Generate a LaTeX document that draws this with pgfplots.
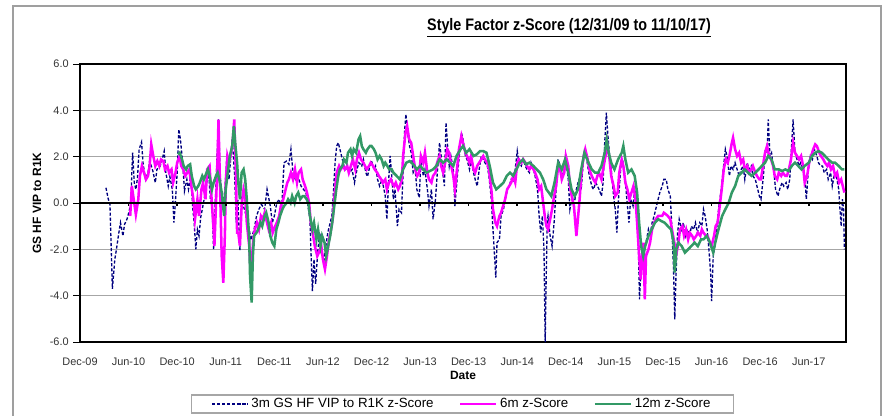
\documentclass[border=0pt]{standalone}
\usepackage{pgfplots}
\pgfplotsset{compat=1.18}
\usepackage{fontspec}
\setmainfont{Liberation Sans}
\definecolor{navyc}{HTML}{000080}
\definecolor{magc}{HTML}{FF00FF}
\definecolor{grnc}{HTML}{339966}
\begin{document}
\begin{tikzpicture}
\useasboundingbox (0,0) rectangle (666pt,-311.25pt);
\draw[gray!75, line width=0.8pt] (9.75pt,-312pt) -- (9.75pt,-4.5pt) -- (660.75pt,-4.5pt) -- (660.75pt,-312pt);
\node[anchor=center, font=\bfseries\fontsize{12.5}{14}\selectfont] at (426.75pt,-21pt) {\scalebox{0.86}[1]{\underline{Style Factor z-Score (12/31/09 to 11/10/17)}}};
\begin{axis}[
  at={(60pt,-256.5pt)}, anchor=south west,
  scale only axis, width=574.5pt, height=208.5pt,
  xmin=0, xmax=94.6, ymin=-6, ymax=6,
  ytick={-6,-4,...,6},
  xtick={0,6,...,90},
  xticklabels={Dec-09,Jun-10,Dec-10,Jun-11,Dec-11,Jun-12,Dec-12,Jun-13,Dec-13,Jun-14,Dec-14,Jun-15,Dec-15,Jun-16,Dec-16,Jun-17},
  tick pos=left, tick align=outside, major tick length=5pt,
  xtick style={draw=none},
  ytick style={black, line width=0.6pt},
  yticklabel style={/pgf/number format/.cd, fixed, fixed zerofill, precision=1, /tikz/.cd},
  /pgf/number format/assume math mode=true,
  ticklabel style={font=\fontsize{8.2}{9.5}\selectfont, text=black!80},
  xticklabel style={yshift=-3.5pt},
  ymajorgrids, grid style={gray!70, line width=0.75pt},
  axis line style={black, line width=1pt},
  xlabel={Date}, ylabel={GS HF VIP to R1K},
  label style={font=\bfseries\fontsize{9}{10.5}\selectfont},
  xlabel style={at={(axis description cs:0.5,-0.119)}, anchor=center},
  ylabel style={at={(axis description cs:-0.056,0.5)}, anchor=center},
  legend columns=3,
  legend style={at={(axis description cs:0.499,-0.223)}, anchor=center, draw=gray!70, line width=0.8pt,
    font=\fontsize{10}{11}\selectfont, inner xsep=15pt, inner ysep=0.5pt,
    /tikz/every even column/.append style={column sep=17pt}},
  legend cell align=left,
  legend image code/.code={\draw[#1] (0pt,0pt) -- (27pt,0pt);},
]
\addplot[navyc, line width=1pt, dash pattern=on 2.4pt off 1.4pt] coordinates {
(3.2,0.66)(3.5,0.16)(3.7,-0.06)(4.0,-3.7)(4.3,-2.43)(4.5,-2.0)(4.8,-1.28)(5.0,-0.85)(5.3,-1.42)(5.5,-0.92)(5.8,-0.7)(6.0,-0.45)(6.3,0.0)(6.4,1.31)(6.5,2.17)(6.7,0.88)(6.9,0.59)(7.1,1.09)(7.3,2.32)(7.6,2.63)(7.8,1.67)(8.1,1.02)(8.4,1.31)(8.6,1.81)(9.0,1.38)(9.3,0.88)(9.5,1.45)(9.9,1.6)(10.1,1.81)(10.4,2.24)(10.6,1.31)(10.9,0.73)(11.1,1.14)(11.4,0.59)(11.6,-0.85)(11.8,0.16)(12.0,1.31)(12.2,3.18)(12.4,2.75)(12.7,1.67)(12.9,0.52)(13.2,1.02)(13.4,0.59)(13.7,1.24)(13.9,-0.13)(14.1,-0.85)(14.3,-2.0)(14.5,-1.14)(14.7,-1.42)(14.9,-0.63)(15.1,-0.27)(15.4,0.3)(15.6,0.81)(15.9,1.24)(16.1,0.16)(16.3,0.0)(16.5,-2.0)(16.7,0.0)(16.9,1.81)(17.1,3.61)(17.3,1.31)(17.6,-0.27)(17.9,0.59)(18.1,1.74)(18.4,1.02)(18.6,1.88)(18.8,2.75)(19.1,1.17)(19.3,-0.85)(19.5,0.13)(19.75,-2.03)(19.96,0.16)(20.3,-0.27)(20.8,-0.9)(21.1,-1.6)(21.5,-1.14)(21.8,-0.56)(22.1,-0.27)(22.4,-0.06)(22.8,-0.27)(23.1,0.59)(23.5,-0.13)(23.75,-0.85)(24.0,-0.56)(24.3,0.0)(24.6,0.16)(24.9,-0.27)(25.2,1.74)(25.5,1.81)(25.8,1.67)(26.05,2.32)(26.3,1.31)(26.6,1.02)(26.9,1.17)(27.3,0.73)(27.6,0.59)(27.9,0.45)(28.1,0.0)(28.4,-0.7)(28.5,-1.86)(28.7,-3.8)(28.9,-2.43)(29.1,-3.5)(29.35,-2.14)(29.6,-1.28)(29.8,-1.86)(30.1,-2.57)(30.3,-2.0)(30.6,-1.28)(30.9,-0.85)(31.1,-0.56)(31.3,0.45)(31.5,1.74)(31.7,2.46)(31.9,2.6)(32.1,2.32)(32.3,2.03)(32.6,1.6)(32.8,1.45)(33.0,1.52)(33.3,1.31)(33.6,1.45)(33.9,0.88)(34.2,1.45)(34.45,1.74)(34.8,1.6)(35.0,1.88)(35.3,1.31)(35.5,1.14)(35.8,1.6)(36.0,1.81)(36.3,1.45)(36.5,1.6)(36.75,1.02)(37.0,0.73)(37.3,1.02)(37.7,0.3)(37.9,-0.7)(38.1,0.88)(38.3,2.03)(38.5,1.17)(38.7,0.16)(38.9,0.59)(39.2,-1.0)(39.4,-0.27)(39.7,-0.42)(39.9,1.31)(40.1,3.18)(40.25,3.83)(40.45,3.04)(40.7,2.46)(40.9,2.17)(41.15,1.31)(41.4,1.45)(41.6,0.59)(41.9,0.23)(42.1,1.88)(42.4,1.17)(42.6,1.45)(42.9,0.59)(43.1,-0.13)(43.4,0.59)(43.6,-0.7)(43.9,0.16)(44.1,1.17)(44.4,2.6)(44.6,2.03)(44.8,1.31)(45.0,0.73)(45.2,3.47)(45.4,2.46)(45.6,1.6)(45.8,2.03)(46.1,1.45)(46.3,-0.13)(46.6,1.17)(46.8,1.88)(47.1,3.04)(47.3,2.75)(47.6,2.03)(47.8,1.88)(48.1,1.45)(48.3,1.88)(48.6,1.31)(48.8,1.02)(49.05,0.73)(49.3,1.45)(49.55,2.03)(49.8,1.88)(50.0,1.74)(50.3,1.6)(50.5,1.17)(50.8,0.16)(50.95,-0.85)(51.1,-1.71)(51.35,-3.22)(51.5,-1.71)(51.8,-1.57)(52.0,-0.56)(52.3,-0.27)(52.5,0.16)(52.8,0.59)(53.0,0.73)(53.25,1.02)(53.5,0.88)(53.7,1.31)(54.0,2.24)(54.2,1.74)(54.5,1.6)(54.7,1.88)(55.0,1.6)(55.2,1.45)(55.5,1.31)(55.7,1.74)(56.0,1.45)(56.2,1.17)(56.5,0.59)(56.7,-0.56)(56.9,-1.28)(57.1,-0.56)(57.3,-2.0)(57.45,-6.0)(57.55,-3.7)(57.7,-0.85)(57.8,-0.56)(58.06,-1.42)(58.3,-1.86)(58.55,-0.85)(58.8,0.59)(59.05,1.88)(59.3,1.6)(59.5,1.17)(59.8,1.45)(60.0,1.88)(60.3,1.02)(60.5,-0.27)(60.8,0.3)(61.0,-0.13)(61.3,0.59)(61.5,0.88)(61.8,1.17)(61.9,0.59)(62.2,2.03)(62.4,2.32)(62.7,1.6)(62.9,1.17)(63.2,0.73)(63.4,0.59)(63.7,0.88)(63.9,0.73)(64.1,0.59)(64.4,0.3)(64.6,0.88)(64.8,2.6)(65.0,3.9)(65.2,2.89)(65.4,2.03)(65.6,1.45)(65.9,0.3)(66.1,-0.27)(66.3,-1.28)(66.5,0.16)(66.8,1.6)(67.0,1.88)(67.3,1.17)(67.5,0.3)(67.8,-0.85)(68.0,0.16)(68.3,-0.13)(68.5,0.59)(68.75,0.16)(68.9,-1.14)(69.1,-4.16)(69.25,-3.0)(69.4,-2.29)(69.7,-2.0)(69.9,-1.71)(70.2,-1.14)(70.4,-1.42)(70.65,-0.85)(70.9,-0.56)(71.1,-0.27)(71.4,0.16)(71.6,0.45)(71.9,0.73)(72.1,1.02)(72.4,1.02)(72.6,0.59)(72.9,0.3)(73.1,-1.14)(73.3,-2.86)(73.45,-5.02)(73.6,-3.15)(73.8,-1.28)(74.0,-0.7)(74.3,-1.14)(74.5,-0.85)(74.8,-1.42)(75.0,-1.14)(75.3,-1.42)(75.5,-1.0)(75.8,-1.14)(76.0,-0.85)(76.25,-1.28)(76.54,-0.85)(76.8,-0.99)(77.0,-0.27)(77.2,-0.56)(77.45,-1.14)(77.7,-2.14)(77.9,-3.15)(78.0,-4.23)(78.2,-2.29)(78.4,-1.86)(78.7,-0.85)(78.9,-0.13)(79.2,0.59)(79.4,1.31)(79.7,2.32)(79.9,2.03)(80.2,1.17)(80.4,1.6)(80.65,1.45)(80.9,1.74)(81.15,1.45)(81.4,1.17)(81.65,1.45)(81.9,1.6)(82.1,1.02)(82.4,1.74)(82.6,1.45)(82.9,1.6)(83.1,1.17)(83.4,1.02)(83.6,0.73)(83.9,0.3)(84.1,0.16)(84.4,1.17)(84.6,2.32)(84.85,2.17)(85.0,3.61)(85.2,2.03)(85.4,2.17)(85.7,1.31)(85.9,0.59)(86.2,0.3)(86.4,0.59)(86.7,0.88)(86.9,0.73)(87.2,0.88)(87.4,0.59)(87.65,1.02)(87.9,2.6)(88.06,3.61)(88.3,2.17)(88.55,1.88)(88.8,1.6)(89.0,1.74)(89.3,1.45)(89.5,1.17)(89.7,0.16)(89.95,1.45)(90.2,2.03)(90.45,1.88)(90.7,2.32)(91.0,2.03)(91.2,1.74)(91.45,1.6)(91.7,1.6)(91.9,1.31)(92.2,1.45)(92.4,1.02)(92.7,1.31)(92.9,0.73)(93.2,1.31)(93.4,1.17)(93.7,0.59)(93.8,0.0)(94.0,-1.0)(94.15,0.16)(94.3,-0.27)(94.4,-2.0)
};
\addlegendentry{3m GS HF VIP to R1K z-Score}
\addplot[magc, line width=1.9pt] coordinates {
(6.2,-0.56)(6.4,0.73)(6.7,0.0)(6.9,-0.5)(7.2,0.16)(7.4,1.17)(7.65,1.6)(7.9,1.31)(8.15,1.02)(8.4,1.17)(8.6,1.6)(8.8,2.53)(9.05,2.03)(9.3,1.6)(9.55,1.81)(9.8,1.6)(10.0,1.88)(10.3,1.81)(10.5,1.45)(10.8,1.6)(11.0,1.31)(11.3,1.45)(11.5,0.88)(11.8,1.31)(12.0,1.74)(12.3,2.03)(12.5,1.6)(12.75,1.45)(13.0,1.17)(13.25,1.31)(13.5,1.45)(13.75,0.73)(14.0,0.16)(14.2,-0.7)(14.5,0.16)(14.7,-0.56)(15.0,0.59)(15.2,0.88)(15.5,0.16)(15.7,1.45)(16.0,1.6)(16.2,0.45)(16.5,-1.14)(16.6,-1.86)(16.8,0.0)(17.0,2.03)(17.1,3.6)(17.3,0.59)(17.5,-2.29)(17.7,-3.44)(17.9,-1.28)(18.0,0.88)(18.2,2.03)(18.4,1.74)(18.6,2.03)(18.85,2.6)(19.05,3.61)(19.25,1.31)(19.4,-1.28)(19.55,-1.28)(19.75,-1.86)(19.96,-0.13)(20.2,0.59)(20.4,0.3)(20.6,-0.85)(20.9,-1.86)(21.1,-3.15)(21.4,-1.57)(21.6,-1.14)(21.85,-0.85)(22.1,-1.14)(22.35,-0.56)(22.6,-0.7)(22.8,-0.42)(23.1,-0.85)(23.3,-1.14)(23.6,-0.85)(23.8,-1.28)(24.1,-1.0)(24.3,-0.85)(24.6,-0.56)(24.8,-0.13)(25.1,0.16)(25.3,0.45)(25.6,0.88)(25.8,1.02)(26.05,1.31)(26.3,1.02)(26.55,1.45)(26.8,0.88)(27.0,1.31)(27.3,1.45)(27.5,1.02)(27.8,0.73)(28.03,0.45)(28.3,0.0)(28.5,-0.85)(28.8,-1.42)(29.0,-1.86)(29.3,-2.29)(29.5,-2.14)(29.8,-1.86)(30.0,-2.43)(30.25,-2.86)(30.5,-2.29)(30.75,-1.57)(31.0,-1.14)(31.2,-0.7)(31.5,0.59)(31.7,1.31)(32.0,1.6)(32.2,1.45)(32.5,1.6)(32.7,1.45)(33.0,1.6)(33.2,1.31)(33.45,1.6)(33.7,1.88)(34.0,1.45)(34.2,1.88)(34.45,2.17)(34.7,1.88)(35.0,1.74)(35.2,1.6)(35.4,1.45)(35.7,1.6)(35.9,1.74)(36.2,1.6)(36.4,1.45)(36.7,1.31)(36.9,1.17)(37.2,1.02)(37.4,0.88)(37.7,1.02)(37.9,0.59)(38.15,0.88)(38.4,1.02)(38.65,0.8)(38.8,0.73)(39.0,0.88)(39.3,0.59)(39.5,0.73)(39.75,1.02)(39.9,2.03)(40.2,3.04)(40.4,3.32)(40.65,2.75)(40.9,2.6)(41.15,2.03)(41.4,1.45)(41.65,1.17)(41.9,1.31)(42.1,2.03)(42.4,1.74)(42.6,2.17)(42.9,1.31)(43.1,1.02)(43.4,0.88)(43.6,1.17)(43.9,1.31)(44.1,1.74)(44.4,2.03)(44.6,1.6)(44.85,1.31)(45.1,1.74)(45.35,2.32)(45.6,2.17)(45.85,1.6)(46.1,1.17)(46.3,0.59)(46.6,1.6)(46.8,2.32)(47.1,2.89)(47.3,2.6)(47.6,2.17)(47.8,2.03)(48.1,1.74)(48.3,2.03)(48.6,1.45)(48.8,1.31)(49.05,1.6)(49.3,1.74)(49.55,1.88)(49.8,2.03)(50.0,1.88)(50.3,1.74)(50.5,1.45)(50.8,0.59)(51.0,-0.27)(51.3,-0.85)(51.5,-1.0)(51.8,-0.56)(52.0,-0.42)(52.25,-0.13)(52.5,0.16)(52.75,0.59)(53.0,0.73)(53.25,0.88)(53.5,1.17)(53.75,0.88)(54.0,1.74)(54.2,1.88)(54.5,1.74)(54.75,1.88)(55.0,1.74)(55.2,1.6)(55.5,1.45)(55.7,1.6)(56.0,1.45)(56.2,1.31)(56.5,1.02)(56.7,0.59)(56.95,0.73)(57.2,0.0)(57.4,-0.56)(57.6,-1.0)(57.8,-1.14)(58.06,-0.7)(58.3,-0.27)(58.55,0.3)(58.8,0.73)(59.05,1.6)(59.3,1.45)(59.5,1.02)(59.8,1.31)(60.0,2.03)(60.3,1.6)(60.5,0.73)(60.8,0.16)(61.0,-0.13)(61.3,-1.42)(61.45,-0.85)(61.7,0.16)(61.9,1.17)(62.2,2.03)(62.4,2.32)(62.7,1.88)(62.9,1.45)(63.2,1.17)(63.4,1.02)(63.65,0.88)(63.9,1.17)(64.1,1.31)(64.4,1.02)(64.6,1.45)(64.9,2.03)(65.1,2.6)(65.4,1.88)(65.6,1.17)(65.9,0.73)(66.1,0.3)(66.4,0.45)(66.6,1.31)(66.9,1.88)(67.1,1.6)(67.35,0.88)(67.6,0.59)(67.85,0.16)(68.1,0.45)(68.35,0.73)(68.6,0.16)(68.8,-0.85)(69.0,-2.0)(69.25,-3.3)(69.4,-2.29)(69.6,-1.71)(69.75,-4.16)(69.9,-2.29)(70.2,-2.0)(70.4,-1.71)(70.65,-1.14)(70.9,-0.85)(71.1,-0.7)(71.4,-0.56)(71.6,-0.56)(71.9,-0.56)(72.1,-0.42)(72.4,-0.5)(72.6,-0.56)(72.9,-0.7)(73.1,-1.14)(73.4,-1.71)(73.6,-2.29)(73.9,-1.71)(74.1,-1.14)(74.4,-1.0)(74.6,-1.42)(74.85,-1.14)(75.1,-1.57)(75.3,-1.28)(75.6,-1.42)(75.8,-1.57)(76.1,-1.42)(76.3,-1.28)(76.6,-1.42)(76.8,-1.14)(77.0,-1.28)(77.3,-1.42)(77.5,-1.42)(77.8,-1.71)(78.0,-1.86)(78.3,-1.42)(78.5,-1.0)(78.75,-0.85)(79.0,-0.13)(79.25,0.59)(79.5,1.45)(79.75,1.88)(80.0,1.74)(80.2,2.03)(80.5,2.6)(80.65,2.82)(80.9,2.32)(81.15,2.03)(81.4,2.17)(81.65,1.74)(81.9,1.88)(82.1,1.45)(82.4,1.6)(82.6,1.31)(82.9,1.45)(83.1,1.6)(83.4,1.31)(83.6,1.17)(83.9,1.02)(84.1,1.02)(84.4,1.74)(84.6,2.17)(84.85,2.46)(85.1,2.03)(85.35,1.88)(85.6,1.6)(85.8,1.17)(86.1,1.02)(86.3,1.31)(86.6,1.17)(86.8,1.31)(87.1,1.17)(87.3,1.17)(87.55,1.45)(87.8,1.88)(88.06,2.6)(88.3,2.17)(88.55,2.03)(88.8,1.88)(89.05,2.03)(89.3,1.6)(89.5,0.88)(89.8,1.17)(90.05,1.74)(90.3,2.03)(90.55,2.32)(90.8,2.53)(91.0,2.46)(91.3,2.17)(91.5,2.03)(91.8,1.88)(92.0,1.74)(92.3,1.6)(92.5,1.74)(92.75,1.45)(93.0,1.6)(93.25,1.17)(93.5,1.31)(93.75,0.88)(94.0,1.02)(94.2,0.73)(94.4,0.45)
};
\addlegendentry{6m z-Score}
\addplot[grnc, line width=1.9pt] coordinates {
(12.1,2.1)(12.3,2.17)(12.6,1.88)(12.8,1.6)(13.1,1.45)(13.3,1.6)(13.6,1.67)(13.8,1.17)(14.1,0.73)(14.3,0.59)(14.6,0.73)(14.8,0.88)(15.1,1.17)(15.3,1.02)(15.55,1.24)(15.8,1.45)(16.0,1.17)(16.3,0.59)(16.5,0.88)(16.8,1.17)(17.0,1.31)(17.3,0.88)(17.5,0.45)(17.8,-0.56)(18.0,0.59)(18.3,1.45)(18.5,2.03)(18.8,2.46)(19.0,3.32)(19.2,2.46)(19.4,1.74)(19.55,0.88)(19.75,0.16)(19.96,1.31)(20.2,1.45)(20.4,1.02)(20.6,0.16)(20.9,-1.57)(21.0,-3.15)(21.2,-4.3)(21.35,-2.29)(21.5,-1.42)(21.8,-1.28)(22.0,-1.14)(22.3,-0.85)(22.5,-1.0)(22.8,-0.56)(23.0,-0.42)(23.3,-0.85)(23.5,-1.42)(23.75,-1.71)(24.0,-1.86)(24.25,-1.14)(24.5,-0.85)(24.7,-0.56)(25.0,-0.27)(25.2,-0.13)(25.5,0.0)(25.7,0.16)(26.0,0.0)(26.2,0.3)(26.5,0.0)(26.7,0.3)(26.95,0.45)(27.2,0.16)(27.5,0.3)(27.7,0.3)(28.0,0.16)(28.2,0.0)(28.4,-0.56)(28.7,-1.14)(28.9,-0.85)(29.2,-1.57)(29.4,-1.14)(29.7,-1.86)(29.9,-1.42)(30.2,-1.71)(30.4,-2.29)(30.65,-1.86)(30.9,-1.42)(31.15,-0.85)(31.4,-0.13)(31.65,0.59)(31.9,1.17)(32.1,1.45)(32.4,1.6)(32.6,1.88)(32.9,1.74)(33.1,2.17)(33.4,2.32)(33.6,2.03)(33.8,2.32)(34.1,2.17)(34.4,2.75)(34.6,2.89)(34.8,2.46)(35.0,2.32)(35.3,2.17)(35.5,2.32)(35.8,2.46)(36.0,2.46)(36.3,2.32)(36.5,2.17)(36.75,1.88)(37.0,2.03)(37.25,1.88)(37.5,1.6)(37.7,1.74)(37.95,1.6)(38.2,1.45)(38.5,1.45)(38.7,1.31)(39.1,1.17)(39.5,1.02)(39.9,1.45)(40.3,1.74)(40.7,1.81)(41.15,1.67)(41.6,1.45)(42.0,1.6)(42.4,1.45)(42.8,1.31)(43.2,1.38)(43.6,1.45)(44.0,1.6)(44.4,1.88)(44.85,1.74)(45.3,1.88)(45.7,1.74)(46.1,1.6)(46.5,2.03)(47.0,2.32)(47.3,2.46)(47.7,2.17)(48.1,2.32)(48.6,2.03)(49.0,2.1)(49.4,2.24)(49.8,2.24)(50.2,2.17)(50.6,1.6)(51.0,0.88)(51.4,0.59)(51.85,0.73)(52.3,0.88)(52.7,1.17)(53.1,1.31)(53.5,1.17)(53.9,1.45)(54.3,1.74)(54.7,1.88)(55.1,1.67)(55.5,1.74)(56.0,1.6)(56.4,1.45)(56.8,1.31)(57.2,1.02)(57.6,0.59)(57.9,0.45)(58.2,0.3)(58.6,0.88)(59.05,1.74)(59.5,1.45)(59.9,1.88)(60.3,1.31)(60.7,0.59)(61.1,0.3)(61.5,0.59)(61.9,1.45)(62.3,2.17)(62.8,1.74)(63.2,1.45)(63.6,1.31)(64.0,1.31)(64.4,1.6)(64.8,2.17)(65.05,2.75)(65.3,2.17)(65.6,1.74)(66.0,1.45)(66.45,1.88)(66.9,2.17)(67.1,2.46)(67.35,1.88)(67.7,1.31)(68.1,1.45)(68.5,1.17)(68.8,0.45)(69.05,-0.85)(69.3,-1.86)(69.55,-2.29)(69.8,-1.86)(70.2,-1.42)(70.6,-1.14)(71.0,-0.85)(71.4,-0.7)(71.8,-0.78)(72.2,-0.85)(72.6,-1.0)(73.0,-1.14)(73.3,-1.71)(73.45,-3.0)(73.65,-1.99)(73.9,-1.71)(74.3,-1.86)(74.7,-2.14)(75.1,-2.0)(75.5,-1.86)(75.9,-1.71)(76.3,-1.86)(76.7,-1.57)(77.0,-1.57)(77.4,-1.42)(77.8,-1.71)(78.2,-2.14)(78.45,-1.71)(78.85,-1.14)(79.3,-0.56)(79.7,-0.27)(80.1,0.0)(80.5,0.45)(80.9,0.73)(81.3,1.17)(81.7,1.31)(82.1,1.45)(82.5,1.31)(82.95,1.17)(83.4,1.31)(83.8,1.45)(84.2,1.6)(84.6,1.74)(85.0,2.03)(85.4,1.88)(85.8,1.45)(86.3,1.45)(86.7,1.38)(87.1,1.45)(87.5,1.38)(87.9,1.6)(88.3,1.74)(88.7,1.6)(89.1,1.45)(89.5,1.6)(90.0,1.74)(90.4,2.03)(90.8,2.17)(91.2,2.24)(91.6,2.17)(92.0,2.03)(92.4,1.88)(92.9,1.74)(93.25,1.74)(93.7,1.6)(94.1,1.45)(94.4,1.45)
};
\addlegendentry{12m z-Score}
\draw[black, line width=2.2pt] (axis cs:0,0) -- (axis cs:94.6,0);
\pgfplotsinvokeforeach{6,12,18,24,30,36,42,48,54,60,66,72,78,84,90}{\draw[black, line width=1.2pt] (axis cs:#1,0) -- ++(0pt,-2.6pt);}
\end{axis}
\end{tikzpicture}
\end{document}
